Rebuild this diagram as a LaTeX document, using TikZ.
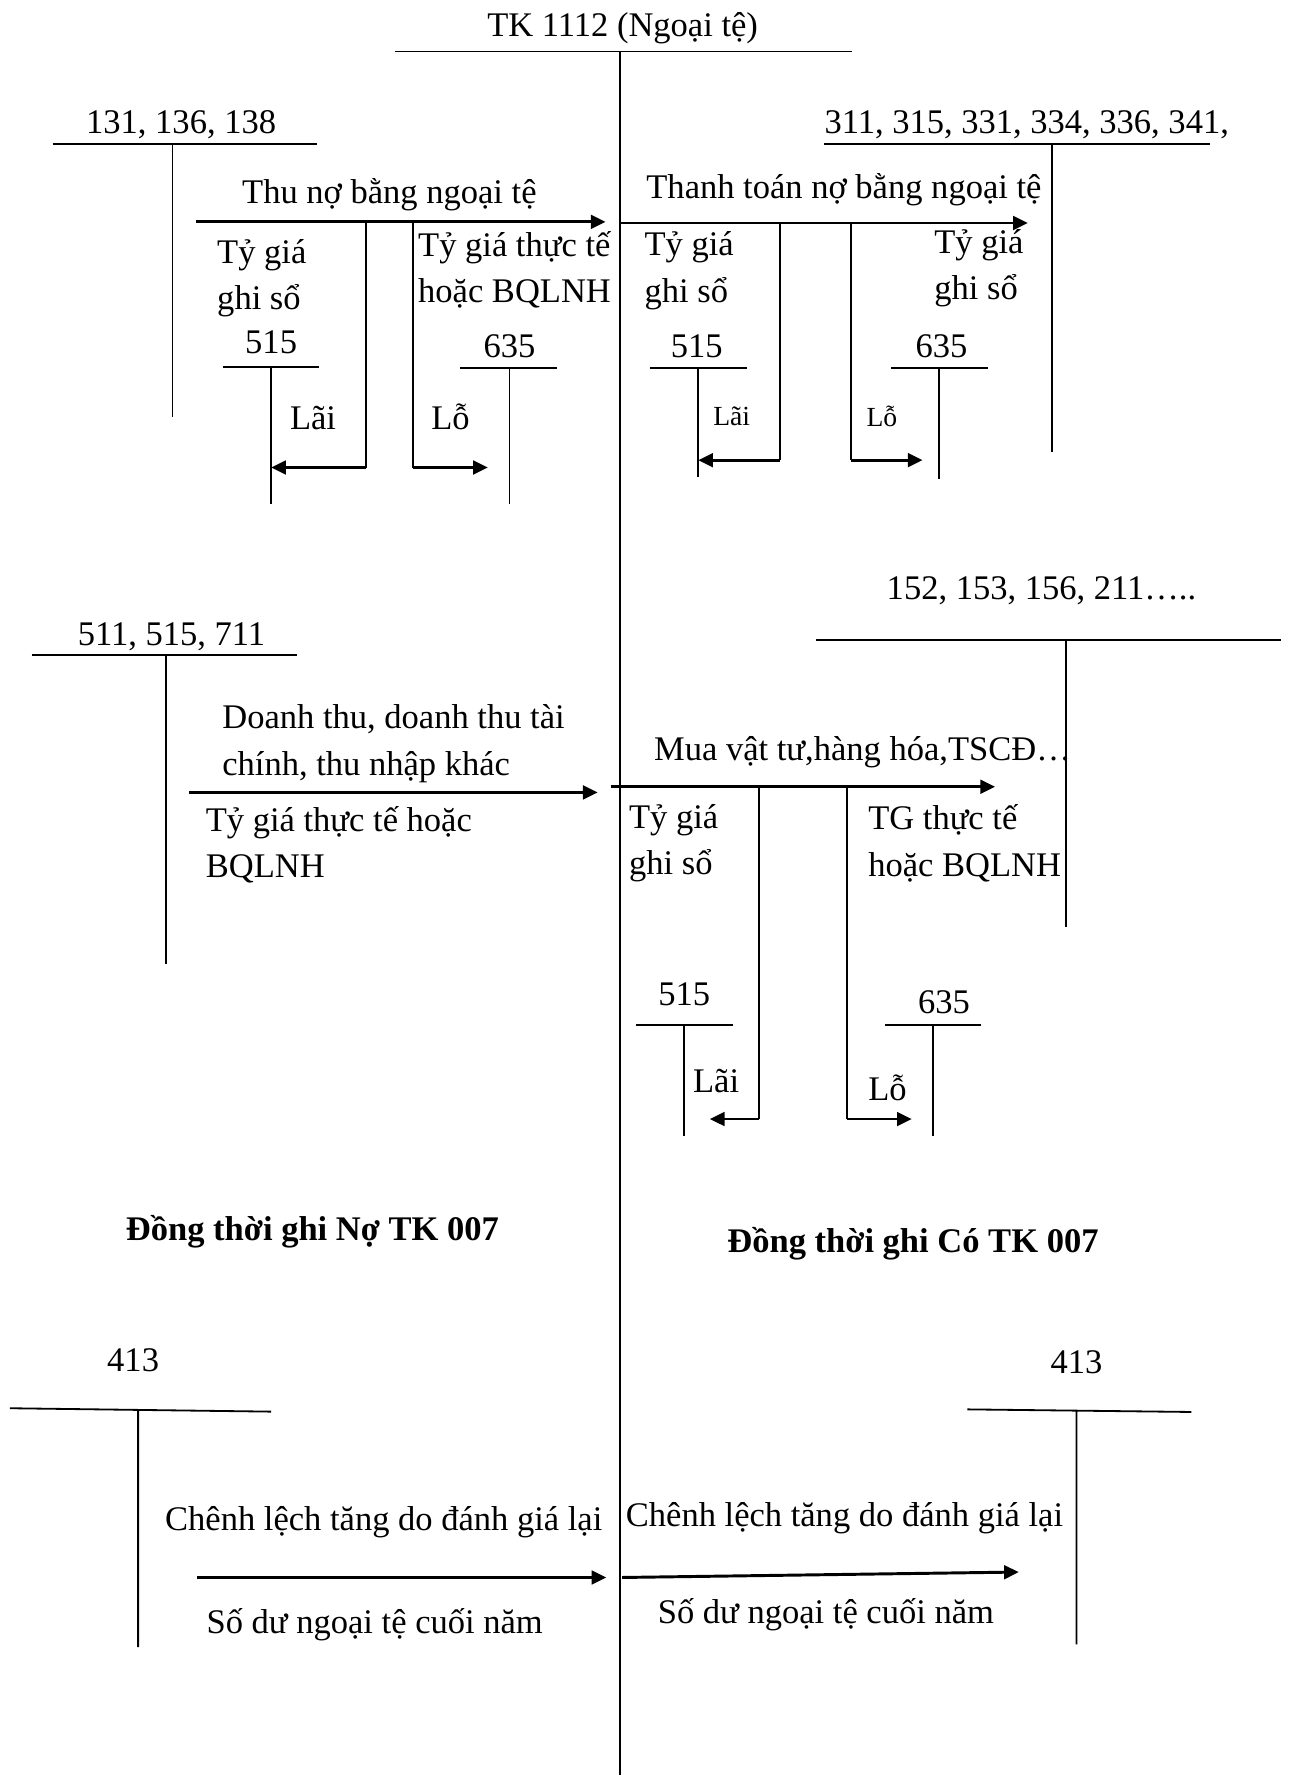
\documentclass[tikz,border=0pt]{standalone}
\usepackage{fontspec}
\setmainfont{Liberation Serif}
\usetikzlibrary{positioning,arrows.meta}

\begin{document}
\begin{tikzpicture}[
    x=0.5pt, y=-0.5pt,
    >={Triangle[length=6.5pt,width=6pt]},
    every node/.style={font=\fontsize{15.25}{20.5}\selectfont, inner sep=0pt},
    lbl/.style={text height=12pt, text depth=3pt},
    multi/.style={align=left, anchor=west},
    small/.style={font=\fontsize{12.2}{15}\selectfont},
    note/.style={font=\fontsize{15.25}{20.5}\selectfont\bfseries},
    tline/.style={line width=0.8pt},
    flow/.style={->, line width=1.3pt}
  ]
  \useasboundingbox (0,0) rectangle (1138,1568);

  % Main account
  \node[lbl] (tk1112) at (550,23) {TK 1112 (Ngoại tệ)};
  \draw[tline] (349,45.5) -- (753,45.5) (547.6,45.5) -- (547.6,1568);

  % Top left: thu no
  \node[lbl] (a131) at (160,108.5) {131, 136, 138};
  \draw[tline] (46.5,127.5) -- (280,127.5) (152.4,127.5) -- (152.4,368);
  \node[lbl] (thu) at (344,170.8) {Thu nợ bằng ngoại tệ};
  \coordinate (thuS) at (173,196);
  \coordinate (thuE) at (535,196);
  \draw[flow] (thuS) -- (thuE);
  \node[multi] (thuA) at (191.5,246) {Tỷ giá\\ghi sổ};
  \node[multi] (thuB) at (369,238.5) {Tỷ giá thực tế\\hoặc BQLNH};
  \node[lbl] (a515a) at (239.5,303) {515};
  \draw[tline] (197,324) -- (282,324) (239.5,324) -- (239.5,445);
  \node[lbl] (a635a) at (450,307) {635};
  \draw[tline] (406,325) -- (492,325) (450,325) -- (450,445);
  \coordinate (thuL) at (323,196);
  \coordinate (thuLd) at (323,413);
  \coordinate (laiA) at (239.5,413);
  \coordinate (thuR) at (365,196);
  \coordinate (thuRd) at (365,413);
  \coordinate (loA) at (431,413);
  \draw[tline] (thuL) -- (thuLd);
  \draw[flow] (thuLd) -- (laiA);
  \draw[tline] (thuR) -- (thuRd);
  \draw[flow] (thuRd) -- (loA);
  \node[lbl] (laiTa) at (276.5,370) {Lãi};
  \node[lbl] (loTa) at (398,370) {Lỗ};

  % Top right: thanh toan no
  \node[lbl] (a311) at (907,108.5) {311, 315, 331, 334, 336, 341,};
  \draw[tline] (728,127.5) -- (1069,127.5) (929,127.5) -- (929,399);
  \node[lbl] (tt) at (745.5,166) {Thanh toán nợ bằng ngoại tệ};
  \coordinate (ttS) at (547.6,197);
  \coordinate (ttE) at (908,197);
  \draw[flow] (ttS) -- (ttE);
  \node[multi] (ttA) at (569,239) {Tỷ giá\\ghi sổ};
  \node[multi] (ttB) at (825,237) {Tỷ giá\\ghi sổ};
  \node[lbl] (a515b) at (615.5,307) {515};
  \draw[tline] (574,325) -- (660,325) (616.8,325) -- (616.8,421.7);
  \node[lbl] (a635b) at (831.6,307) {635};
  \draw[tline] (787.5,325) -- (873,325) (829.8,325) -- (829.8,423);
  \coordinate (ttL) at (689,197);
  \coordinate (ttLd) at (689,406.5);
  \coordinate (laiB) at (616.8,406.5);
  \coordinate (ttR) at (752,197);
  \coordinate (ttRd) at (752,406.5);
  \coordinate (loB) at (815,406.5);
  \draw[tline] (ttL) -- (ttLd);
  \draw[flow] (ttLd) -- (laiB);
  \draw[tline] (ttR) -- (ttRd);
  \draw[flow] (ttRd) -- (loB);
  \node[lbl, small] (laiTb) at (646.4,366.7) {Lãi};
  \node[lbl, small] (loTb) at (779,368) {Lỗ};

  % Middle left: doanh thu
  \node[lbl] (a511) at (151.5,561.5) {511, 515, 711};
  \draw[tline] (28,578.7) -- (262.4,578.7) (146.6,578.7) -- (146.6,851.7);
  \node[multi] (dt) at (196,657) {Doanh thu, doanh thu tài\\chính, thu nhập khác};
  \coordinate (dtS) at (167,700);
  \coordinate (dtE) at (528,700);
  \draw[flow] (dtS) -- (dtE);
  \node[multi] (dtA) at (181.4,746.5) {Tỷ giá thực tế hoặc\\BQLNH};

  % Middle right: mua vat tu
  \node[lbl] (a152) at (920,521) {152, 153, 156, 211…..};
  \draw[tline] (721,565) -- (1132,565) (942,565) -- (942,819);
  \node[lbl, anchor=west] (mua) at (577.4,663) {Mua vật tư,hàng hóa,TSCĐ…};
  \coordinate (muaS) at (539.6,695);
  \coordinate (muaE) at (879,695);
  \draw[flow] (muaS) -- (muaE);
  \node[multi] (muaA) at (555.3,745) {Tỷ giá\\ghi sổ};
  \node[multi] (muaB) at (766.6,745) {TG thực tế\\hoặc BQLNH};
  \node[lbl] (a515c) at (604.5,879.5) {515};
  \draw[tline] (562,905.6) -- (647.6,905.6) (604.5,905.6) -- (604.5,1003.7);
  \node[lbl] (a635c) at (834,886.5) {635};
  \draw[tline] (782,905.6) -- (866.7,905.6) (824,905.6) -- (824,1003.7);
  \coordinate (muaL) at (670.7,695);
  \coordinate (muaLd) at (670.7,988.5);
  \coordinate (laiC) at (627,988.5);
  \coordinate (muaR) at (748.4,695);
  \coordinate (muaRd) at (748.4,988.5);
  \coordinate (loC) at (805.4,988.5);
  \draw[tline] (muaL) -- (muaLd);
  \draw[flow] (muaLd) -- (laiC);
  \draw[tline] (muaR) -- (muaRd);
  \draw[flow] (muaRd) -- (loC);
  \node[lbl] (laiTc) at (632.6,956) {Lãi};
  \node[lbl] (loTc) at (784,963) {Lỗ};

  % Off-balance notes
  \node[lbl, note] (noNote) at (276,1087) {Đồng thời ghi Nợ TK 007};
  \node[lbl, note] (coNote) at (806.5,1097) {Đồng thời ghi Có TK 007};

  % Bottom: 413
  \node[lbl] (a413a) at (117.6,1202.5) {413};
  \draw[tline] (8.7,1244) -- (239.5,1247) (122,1246) -- (122,1455);
  \node[lbl] (clA) at (339,1343) {Chênh lệch tăng do đánh giá lại};
  \coordinate (clAS) at (174,1393.5);
  \coordinate (clAE) at (535.6,1393.5);
  \draw[flow] (clAS) -- (clAE);
  \node[lbl] (sdA) at (331,1434) {Số dư ngoại tệ cuối năm};
  \node[lbl] (a413b) at (951,1204) {413};
  \draw[tline] (854.5,1245) -- (1052.5,1247.3) (951,1246) -- (951,1452.7);
  \node[lbl] (clB) at (746,1339.5) {Chênh lệch tăng do đánh giá lại};
  \coordinate (clBS) at (549.6,1393.5);
  \coordinate (clBE) at (900,1388.7);
  \draw[flow] (clBS) -- (clBE);
  \node[lbl] (sdB) at (729.6,1425) {Số dư ngoại tệ cuối năm};
\end{tikzpicture}
\end{document}
